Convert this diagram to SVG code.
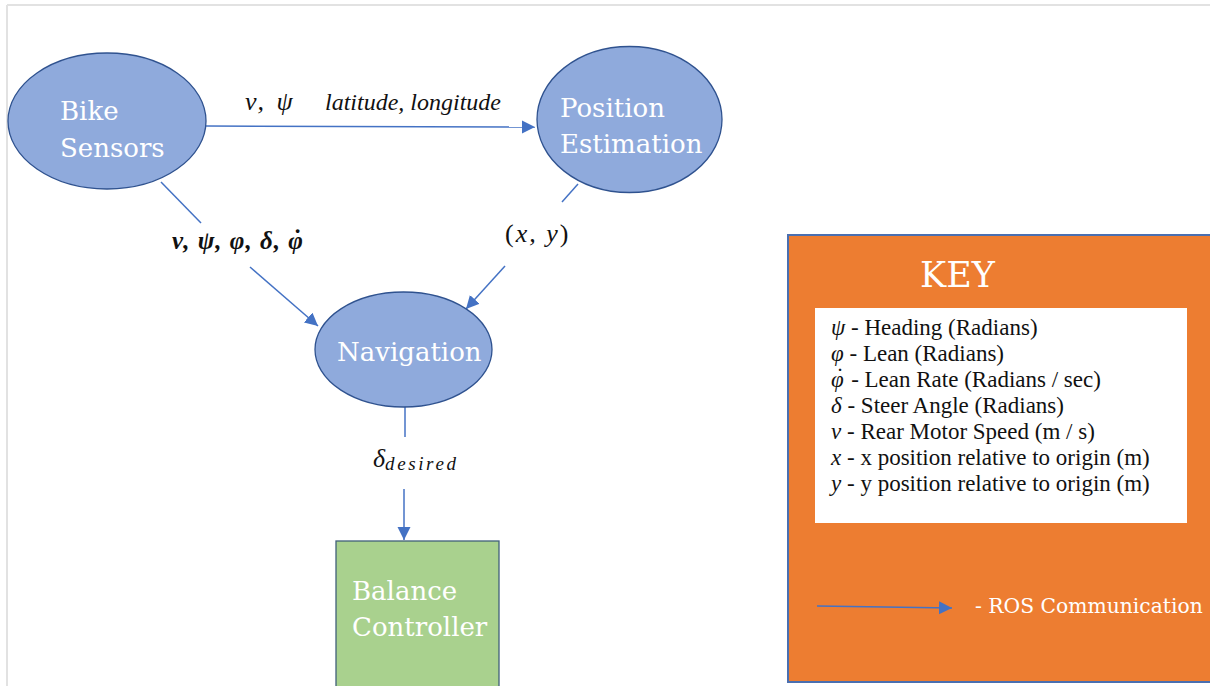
<svg xmlns="http://www.w3.org/2000/svg" width="1210" height="686" viewBox="0 0 1210 686">
  <style>
    .node { fill: #8faadc; stroke: #2f528f; stroke-width: 1.3; }
    .box { fill: #a9d18e; stroke: #41607a; stroke-width: 1.3; }
    .label { font-family: "DejaVu Serif", "Liberation Serif", serif; font-size: 26px; fill: #ffffff; }
    .wire { stroke: #4472c4; stroke-width: 1.5; fill: none; }
    .math { font-family: "Liberation Serif", serif; font-style: italic; font-size: 26px; fill: #111111; }
    .mathb { font-family: "Liberation Serif", serif; font-style: italic; font-weight: bold; font-size: 25px; fill: #111111; }
    .up { font-style: normal; }
    .key { font-family: "Liberation Serif", serif; font-size: 23px; fill: #111111; }
    .keyvar { font-style: italic; }
  </style>
  <defs>
    <marker id="arrow" markerUnits="userSpaceOnUse" markerWidth="14" markerHeight="14" refX="13" refY="6.5" orient="auto">
      <path d="M0,0 L13,6.5 L0,13 Z" fill="#4472c4"/>
    </marker>
  </defs>

  <!-- page frame -->
  <rect x="0" y="0" width="1210" height="686" fill="#ffffff"/>
  <line x1="7" y1="5" x2="1210" y2="5" stroke="#e2e2e2" stroke-width="2"/>
  <line x1="7" y1="5" x2="7" y2="686" stroke="#e2e2e2" stroke-width="2"/>

  <!-- connectors -->
  <g id="connectors">
    <line class="wire" x1="206" y1="126" x2="535" y2="127" marker-end="url(#arrow)"/>
    <line class="wire" x1="161" y1="182" x2="201" y2="223"/>
    <line class="wire" x1="250" y1="267" x2="318" y2="326" marker-end="url(#arrow)"/>
    <line class="wire" x1="578" y1="184" x2="562" y2="202"/>
    <line class="wire" x1="505" y1="266" x2="466" y2="309" marker-end="url(#arrow)"/>
    <line class="wire" x1="405" y1="404" x2="405" y2="437"/>
    <line class="wire" x1="404" y1="489" x2="404" y2="540" marker-end="url(#arrow)"/>
  </g>

  <!-- connector labels -->
  <g id="edge-labels">
    <text class="math" x="245" y="110" letter-spacing="3">v, ψ</text>
    <text class="math" x="325" y="110" style="font-size:24px">latitude, longitude</text>
    <text class="mathb" x="172" y="249" letter-spacing="1">v, ψ, φ, δ, φ<tspan dx="-12" dy="-2">˙</tspan></text>
    <text class="math" x="505" y="242" letter-spacing="2"><tspan class="up">(</tspan>x, y<tspan class="up">)</tspan></text>
    <text class="math" x="373" y="467">δ<tspan style="font-size:19px" dy="3" letter-spacing="2.6">desired</tspan></text>
  </g>

  <g id="bike-sensors">
    <ellipse class="node" cx="107" cy="121" rx="99" ry="68"/>
    <text class="label" x="60" y="120">Bike</text>
    <text class="label" x="60" y="157">Sensors</text>
  </g>

  <g id="position-estimation">
    <ellipse class="node" cx="629.5" cy="119.5" rx="92.5" ry="73"/>
    <text class="label" x="560" y="117">Position</text>
    <text class="label" x="560" y="153">Estimation</text>
  </g>

  <g id="navigation">
    <ellipse class="node" cx="403.5" cy="349.5" rx="88.5" ry="57.5"/>
    <text class="label" x="337" y="361">Navigation</text>
  </g>

  <g id="balance-controller">
    <rect class="box" x="336" y="541" width="163" height="150"/>
    <text class="label" x="352" y="600">Balance</text>
    <text class="label" x="352" y="636">Controller</text>
  </g>

  <!-- legend -->
  <g id="key">
    <rect x="788" y="235" width="430" height="447" fill="#ed7d31" stroke="#4a6fb0" stroke-width="2"/>
    <text x="920" y="287" font-family="DejaVu Serif, Liberation Serif, serif" font-size="35" fill="#ffffff">KEY</text>
    <rect x="815" y="308" width="372" height="215" fill="#ffffff"/>
    <text class="key" x="831" y="335"><tspan class="keyvar">ψ</tspan> - Heading (Radians)</text>
    <text class="key" x="831" y="361"><tspan class="keyvar">φ</tspan> - Lean (Radians)</text>
    <text class="key" x="831" y="387"><tspan class="keyvar">φ<tspan dx="-9" dy="-3">˙</tspan></tspan><tspan dx="3" dy="3"> - Lean Rate (Radians / sec)</tspan></text>
    <text class="key" x="831" y="413"><tspan class="keyvar">δ</tspan> - Steer Angle (Radians)</text>
    <text class="key" x="831" y="439"><tspan class="keyvar">v</tspan> - Rear Motor Speed (m / s)</text>
    <text class="key" x="831" y="465"><tspan class="keyvar">x</tspan> - x position relative to origin (m)</text>
    <text class="key" x="831" y="491"><tspan class="keyvar">y</tspan> - y position relative to origin (m)</text>
    <line class="wire" x1="817" y1="606" x2="952" y2="608" marker-end="url(#arrow)"/>
    <text x="975" y="613" font-family="DejaVu Serif, Liberation Serif, serif" font-size="20.3" fill="#ffffff">- ROS Communication</text>
  </g>
</svg>
